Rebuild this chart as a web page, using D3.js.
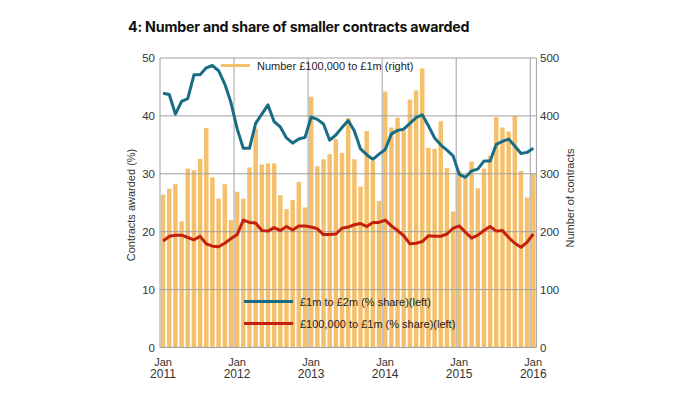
<!DOCTYPE html>
<html>
<head>
<meta charset="utf-8">
<script src="https://cdnjs.cloudflare.com/ajax/libs/d3/7.8.5/d3.min.js"></script>
<style>
  body { margin: 0; background: #fff; }
  text { font-family: "Liberation Sans", Arial, sans-serif; fill: #333; }
</style>
</head>
<body>
<div id="content"></div>
<script>
// monthly data, Jan 2011 .. Jan 2016
var months = d3.timeMonth.range(new Date(2011, 0, 1), new Date(2016, 1, 1));
var yearLabels = ["2011", "2012", "2013", "2014", "2015", "2016"];
var leftTicks = [0, 10, 20, 30, 40, 50];
var rightTicks = [0, 100, 200, 300, 400, 500];

// number of contracts £100,000 to £1m (right axis)
var numSmall = [264, 274, 282, 218, 309, 306, 326, 379, 294, 257, 282, 220,
                269, 257, 311, 378, 316, 318, 318, 263, 239, 255, 286, 242,
                433, 313, 325, 334, 360, 336, 396, 325, 278, 374, 322, 253,
                442, 380, 397, 374, 428, 444, 482, 345, 343, 391, 310, 235,
                305, 293, 321, 275, 309, 331, 398, 380, 373, 400, 305, 259,
                300];
// £1m to £2m share (%)
var share1to2 = [43.9, 43.7, 40.3, 42.5, 43.0, 47.1, 47.1, 48.3, 48.7, 47.8, 45.5, 42.3,
                 37.8, 34.4, 34.4, 38.7, 40.3, 41.9, 39.0, 38.1, 36.2, 35.3, 36.0, 36.3,
                 39.8, 39.4, 38.6, 35.8, 36.7, 38.0, 39.2, 37.4, 34.3, 33.3, 32.5, 33.4,
                 34.2, 36.9, 37.5, 37.7, 38.7, 39.7, 40.2, 38.3, 36.2, 35.0, 34.1, 33.1,
                 29.9, 29.4, 30.5, 30.8, 32.2, 32.2, 35.1, 35.6, 36.0, 34.8, 33.5, 33.7,
                 34.4];
// £100,000 to £1m share (%)
var share100kto1 = [18.4, 19.2, 19.4, 19.4, 19.0, 18.6, 19.2, 17.9, 17.5, 17.4, 18.0, 18.8,
                    19.5, 22.0, 21.6, 21.5, 20.2, 20.1, 20.7, 20.2, 20.9, 20.3, 21.0, 21.0,
                    20.8, 20.5, 19.5, 19.5, 19.6, 20.6, 20.8, 21.2, 21.4, 20.9, 21.6, 21.6,
                    22.0, 21.0, 20.2, 19.3, 17.9, 18.0, 18.3, 19.3, 19.2, 19.2, 19.6, 20.6,
                    21.0, 19.9, 18.9, 19.4, 20.2, 20.9, 20.1, 20.2, 19.0, 18.0, 17.3, 18.2,
                    19.6];

var width = 700, height = 394;
var plotLeft = 160, plotRight = 536.4, plotTop = 58, plotBottom = 347.5;
var orange = '#f5c06c', teal = '#196c85', red = '#c4200c', grid = '#a0a0a0';

var svg = d3.select('#content').append('svg')
  .attr('width', width).attr('height', height);

var x = d3.scaleBand().domain(months).range([plotLeft, plotRight])
  .paddingInner(0.27).paddingOuter(0.135);
var yL = d3.scaleLinear().domain([0, 50]).range([plotBottom, plotTop]);
var yR = d3.scaleLinear().domain([0, 500]).range([plotBottom, plotTop]);
var cx = function(d){ return x(d) + x.bandwidth() / 2; };
var gx = function(d){ return cx(d) - x.step() / 2; };

// title
var title = svg.append('text')
  .attr('x', 128).attr('y', 32)
  .style('font-family', 'Inter, "DejaVu Sans", sans-serif')
  .style('font-weight', 700).style('font-size', '15px').style('fill', '#111')
  .style('letter-spacing', '-0.2px')
  .text('4: Number and share of smaller contracts awarded');
var tw = title.node().getComputedTextLength();
title.style('font-size', (15 * 342 / tw) + 'px');

// bars
svg.selectAll('.bar').data(numSmall).enter().append('rect')
  .attr('class', 'bar')
  .attr('x', function(d, i){ return x(months[i]); })
  .attr('width', x.bandwidth())
  .attr('y', function(d){ return yR(d); })
  .attr('height', function(d){ return yR(0) - yR(d); })
  .style('fill', orange);

// gridlines
var janMonths = months.filter(function(d){ return d.getMonth() === 0; });
svg.selectAll('.hgrid').data(leftTicks).enter().append('line')
  .attr('x1', plotLeft).attr('x2', plotRight)
  .attr('y1', function(d){ return yL(d); }).attr('y2', function(d){ return yL(d); })
  .style('stroke', grid).style('stroke-width', 1);
svg.selectAll('.vgrid').data(janMonths.slice(1)).enter().append('line')
  .attr('x1', gx).attr('x2', gx)
  .attr('y1', plotTop).attr('y2', plotBottom)
  .style('stroke', grid).style('stroke-width', 1);
svg.append('line').attr('x1', plotLeft).attr('x2', plotLeft).attr('y1', plotTop).attr('y2', plotBottom)
  .style('stroke', grid);
svg.append('line').attr('x1', plotRight).attr('x2', plotRight).attr('y1', plotTop).attr('y2', plotBottom)
  .style('stroke', grid);

// lines
var line = function(vals){
  return d3.line()
    .x(function(d, i){ return cx(months[i]); })
    .y(function(d){ return yL(d); })(vals);
};
svg.append('path').attr('d', line(share100kto1))
  .style('fill', 'none').style('stroke', red).style('stroke-width', 3)
  .style('stroke-linejoin', 'round');
svg.append('path').attr('d', line(share1to2))
  .style('fill', 'none').style('stroke', teal).style('stroke-width', 3)
  .style('stroke-linejoin', 'round');

// y axis labels
svg.selectAll('.lt').data(leftTicks).enter().append('text')
  .attr('x', 155).attr('y', function(d){ return yL(d) + 4; })
  .style('text-anchor', 'end').style('font-size', '11.5px')
  .text(function(d){ return d; });
svg.selectAll('.rt').data(rightTicks).enter().append('text')
  .attr('x', 540).attr('y', function(d){ return yR(d) + 4; })
  .style('font-size', '11.5px')
  .text(function(d){ return d; });

svg.append('text')
  .attr('transform', 'translate(135,205) rotate(-90)')
  .style('text-anchor', 'middle').style('font-size', '11px')
  .text('Contracts awarded (%)');
svg.append('text')
  .attr('transform', 'translate(574,198) rotate(-90)')
  .style('text-anchor', 'middle').style('font-size', '11px')
  .text('Number of contracts');

// x axis labels
svg.selectAll('.xj').data(janMonths).enter().append('text')
  .attr('x', function(d){ return gx(d) + 3; }).attr('y', 366)
  .style('text-anchor', 'middle').style('font-size', '11px')
  .text('Jan');
svg.selectAll('.xy').data(janMonths).enter().append('text')
  .attr('x', function(d){ return gx(d) + 3; }).attr('y', 378)
  .style('text-anchor', 'middle').style('font-size', '12px')
  .text(function(d, i){ return yearLabels[i]; });

// legends
var legend = [
  { label: 'Number £100,000 to £1m (right)', color: orange, x: 221, y: 65.5 },
  { label: '£1m to £2m (% share)(left)', color: teal, x: 244, y: 301.5 },
  { label: '£100,000 to £1m (% share)(left)', color: red, x: 244, y: 323.5 }
];
var lg = svg.selectAll('.legend').data(legend).enter().append('g');
lg.append('line')
  .attr('x1', function(d){ return d.x; }).attr('x2', function(d){ return d.x + (d.color === orange ? 29 : 49); })
  .attr('y1', function(d){ return d.y; }).attr('y2', function(d){ return d.y; })
  .style('stroke', function(d){ return d.color; }).style('stroke-width', 3);
lg.append('text')
  .attr('x', function(d){ return d.x + (d.color === orange ? 36 : 56); })
  .attr('y', function(d){ return d.y + 4; })
  .style('font-size', '11px').style('fill', '#222')
  .text(function(d){ return d.label; });
</script>
</body>
</html>
